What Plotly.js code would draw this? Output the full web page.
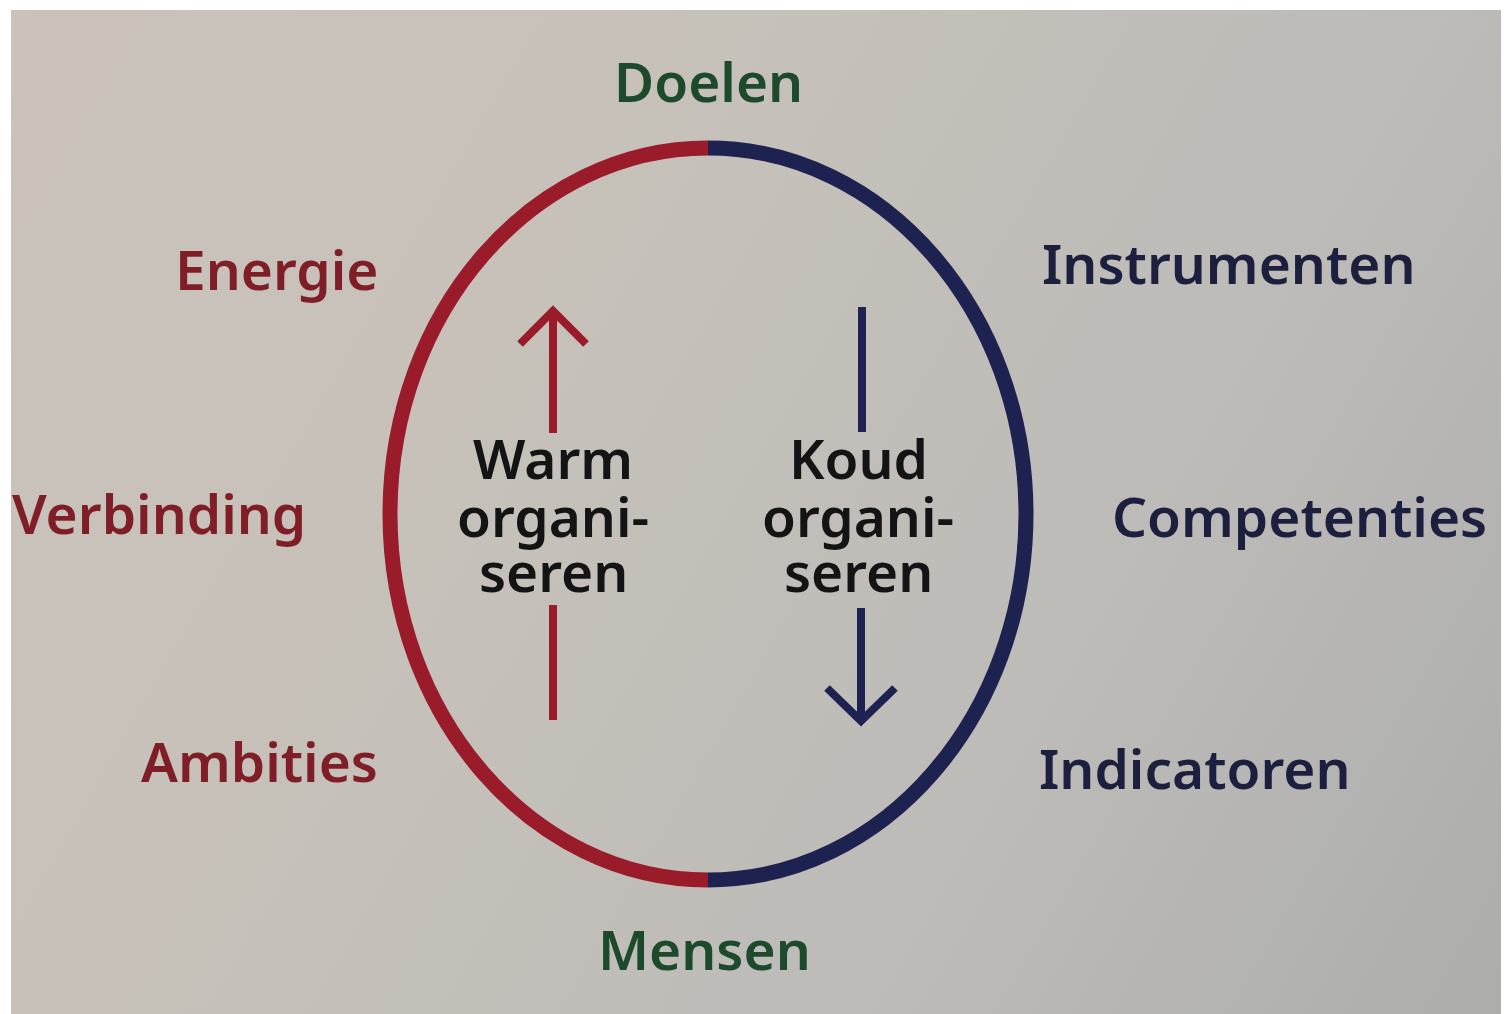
<!DOCTYPE html>
<html>
<head>
<meta charset="utf-8">
<script src="https://cdn.plot.ly/plotly-3.0.1.min.js"></script>
<style>
  html, body { margin: 0; padding: 0; background: #ffffff; width: 1504px; height: 1014px; overflow: hidden; }
  #bg { position: absolute; left: 11px; top: 10px; width: 1490px; height: 1004px;
        background: linear-gradient(120deg, #cbc3ba 0%, #c5c0b9 40%, #bcbbb8 70%, #adadac 100%); }
  #plot { position: absolute; left: 0; top: 0; width: 1504px; height: 1014px; }
</style>
</head>
<body>
<div id="bg"></div>
<div id="plot"></div>
<script>
// ---- content ----
const topLabel = 'Doelen';
const bottomLabel = 'Mensen';
const warmLabels = ['Energie', 'Verbinding', 'Ambities'];
const coldLabels = ['Instrumenten', 'Competenties', 'Indicatoren'];
const warmInner = ['Warm', 'organi-', 'seren'];
const coldInner = ['Koud', 'organi-', 'seren'];

// ---- styling / geometry ----
const RED = '#9a1c2a', RED_TXT = '#7f1e27';
const NAVY = '#1e2250', NAVY_TXT = '#1c1f3e';
const GREEN = '#1e4a2c', BLACK = '#141414';
const FONT = 'Noto Sans, Open Sans, sans-serif';
const FS = 55;

const cx = 708, cy = 514, rx = 318, ry = 366, k = 0.5523;
const warmY = [268, 512, 760], warmRight = [380, 308, 380];
const coldY = [262, 515, 767], coldLeft = [1040, 1110, 1037];
const innerY = [457, 515, 570];
const warmX = 553, coldX = 858;

function halfEllipse(side) {
  const s = side; // -1 left, +1 right
  return `M ${cx},${cy - ry} C ${cx + s * k * rx},${cy - ry} ${cx + s * rx},${cy - k * ry} ${cx + s * rx},${cy} ` +
         `C ${cx + s * rx},${cy + k * ry} ${cx + s * k * rx},${cy + ry} ${cx},${cy + ry}`;
}

const shapes = [
  { type: 'path', path: halfEllipse(-1), line: { color: RED, width: 15 } },
  { type: 'path', path: halfEllipse(1), line: { color: NAVY, width: 15 } },
  // warm arrow (up)
  { type: 'line', x0: warmX, y0: 433, x1: warmX, y1: 312, line: { color: RED, width: 8 } },
  { type: 'line', x0: warmX, y0: 605, x1: warmX, y1: 720, line: { color: RED, width: 8 } },
  { type: 'path', path: `M ${warmX - 33},${344} L ${warmX},${311} L ${warmX + 33},${344}`, line: { color: RED, width: 8 } },
  // cold arrow (down)
  { type: 'line', x0: coldX + 4, y0: 307, x1: coldX + 4, y1: 432, line: { color: NAVY, width: 8 } },
  { type: 'line', x0: coldX + 3, y0: 608, x1: coldX + 3, y1: 721, line: { color: NAVY, width: 8 } },
  { type: 'path', path: `M ${coldX + 3 - 34},${688} L ${coldX + 3},${721} L ${coldX + 3 + 34},${688}`, line: { color: NAVY, width: 8 } }
];
shapes.forEach(s => { s.xref = 'x'; s.yref = 'y'; s.layer = 'above'; });

function ann(text, x, y, xanchor, color) {
  return { text, x, y, xref: 'x', yref: 'y', xanchor, yanchor: 'middle', showarrow: false,
           font: { family: FONT, size: FS, color, weight: 600 } };
}

const annotations = [];
annotations.push(ann(topLabel, 708, 80, 'center', GREEN));
annotations.push(ann(bottomLabel, 704, 948, 'center', GREEN));
warmLabels.forEach((t, i) => annotations.push(ann(t, warmRight[i], warmY[i], 'right', RED_TXT)));
coldLabels.forEach((t, i) => annotations.push(ann(t, coldLeft[i], coldY[i], 'left', NAVY_TXT)));
warmInner.forEach((t, i) => annotations.push(ann(t, warmX, innerY[i], 'center', BLACK)));
coldInner.forEach((t, i) => annotations.push(ann(t, coldX, innerY[i], 'center', BLACK)));

const layout = {
  width: 1504, height: 1014,
  margin: { l: 0, r: 0, t: 0, b: 0 },
  paper_bgcolor: 'rgba(0,0,0,0)', plot_bgcolor: 'rgba(0,0,0,0)',
  xaxis: { range: [0, 1504], visible: false, fixedrange: true },
  yaxis: { range: [1014, 0], visible: false, fixedrange: true },
  showlegend: false,
  shapes, annotations
};

Plotly.newPlot('plot', [{ x: [], y: [], type: 'scatter', mode: 'markers', hoverinfo: 'skip' }], layout,
  { staticPlot: true, displayModeBar: false });
</script>
</body>
</html>
